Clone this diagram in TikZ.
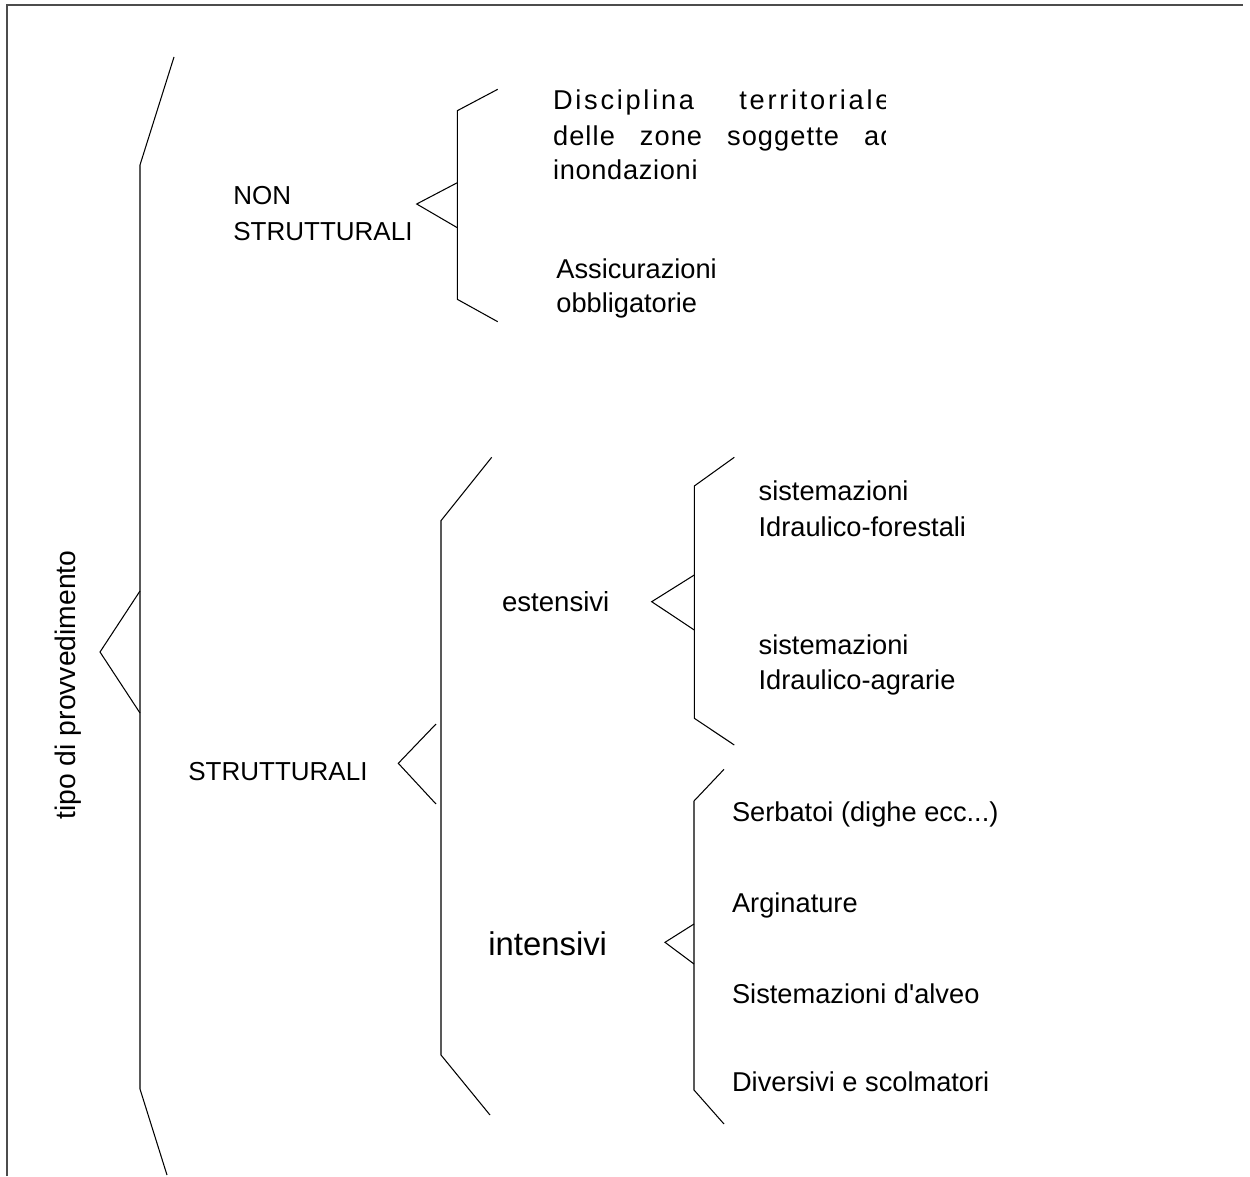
\documentclass[tikz,border=0pt]{standalone}
\usepackage{fontspec}
\setmainfont{Liberation Sans}
\newfontfamily\spaceda[LetterSpace=10]{Liberation Sans}
\newfontfamily\spacedb[LetterSpace=4]{Liberation Sans}
\newfontfamily\spacedc[LetterSpace=2.5]{Liberation Sans}
\begin{document}
\begin{tikzpicture}[x=0.02cm,y=-0.02cm,
  brk/.style={line width=0.6pt, black, line join=miter},
  lbl/.style={inner sep=0pt, anchor=base west, font=\fontsize{15.5}{18}\selectfont},
  caps/.style={inner sep=0pt, anchor=base west, font=\fontsize{14.8}{18}\selectfont},
]
\useasboundingbox (0,0) rectangle (1250,1176);
% frame
\draw[line width=0.9pt, black!70] (7,1176) -- (7,5) -- (1243,5);

% main bracket
\coordinate (m1) at (174,57);
\coordinate (m2) at (140,165);
\coordinate (m3) at (140,1089);
\coordinate (m4) at (167,1175);
\coordinate (mu) at (140,591);
\coordinate (mt) at (100,652);
\coordinate (md) at (140,713);
\draw[brk] (m1) -- (m2) -- (m3) -- (m4);
\draw[brk] (mu) -- (mt) -- (md);
\node[rotate=90, anchor=base, inner sep=0pt, font=\fontsize{16.1}{19}\selectfont] (tipo) at (75,685) {tipo di provvedimento};

% NON STRUTTURALI bracket
\coordinate (n1) at (497.7,89.3);
\coordinate (n2) at (457.3,110.7);
\coordinate (n3) at (457.3,299.3);
\coordinate (n4) at (497.7,321.7);
\coordinate (nu) at (457.3,182.7);
\coordinate (nt) at (416.7,204);
\coordinate (nd) at (457.3,227.7);
\draw[brk] (n1) -- (n2) -- (n3) -- (n4);
\draw[brk] (nu) -- (nt) -- (nd);
\node[caps] (non1) at (233,204) {NON};
\node[caps] (non2) at (233,240) {STRUTTURALI};

% Disciplina text (justified, clipped)
\begin{scope}
\clip (540,70) rectangle (885,200);
\node[lbl] (d1) at (552.7,110) {\spaceda\makebox[6.75cm][s]{Disciplina territoriale}};
\node[lbl] (d2) at (552.7,145) {\spacedb\makebox[6.85cm][s]{delle zone soggette ad}};
\end{scope}
\node[lbl] (d3) at (552.7,179) {\spacedc inondazioni};
\node[lbl] (ass1) at (556,278) {Assicurazioni};
\node[lbl] (ass2) at (556,312) {obbligatorie};

% STRUTTURALI bracket
\coordinate (s1) at (491.7,457.3);
\coordinate (s2) at (441,520.7);
\coordinate (s3) at (441,1055);
\coordinate (s4) at (490,1115);
\coordinate (su) at (436,724);
\coordinate (st) at (398.3,763.3);
\coordinate (sd) at (436,804);
\draw[brk] (s1) -- (s2) -- (s3) -- (s4);
\draw[brk] (su) -- (st) -- (sd);
\node[caps] (str) at (188,780) {STRUTTURALI};

% estensivi bracket
\coordinate (e1) at (734.3,457.3);
\coordinate (e2) at (694.3,486);
\coordinate (e3) at (694.3,718.3);
\coordinate (e4) at (734.3,745);
\coordinate (eu) at (694.3,575);
\coordinate (et) at (651.7,601.7);
\coordinate (ed) at (694.3,630);
\draw[brk] (e1) -- (e2) -- (e3) -- (e4);
\draw[brk] (eu) -- (et) -- (ed);
\node[lbl, font=\fontsize{15.7}{18}\selectfont] (est) at (501.7,611.7) {estensivi};
\node[lbl] (sf1) at (758.3,500) {sistemazioni};
\node[lbl] (sf2) at (758.3,536) {Idraulico-forestali};
\node[lbl] (sa1) at (758.3,654) {sistemazioni};
\node[lbl] (sa2) at (758.3,689) {Idraulico-agrarie};

% intensivi bracket
\coordinate (i1) at (724,769.3);
\coordinate (i2) at (694,801);
\coordinate (i3) at (694,1090);
\coordinate (i4) at (724,1124);
\coordinate (iu) at (694,924);
\coordinate (it) at (665,942.3);
\coordinate (id) at (694,964);
\draw[brk] (i1) -- (i2) -- (i3) -- (i4);
\draw[brk] (iu) -- (it) -- (id);
\node[lbl, font=\fontsize{18.7}{22}\selectfont] (int) at (488,955) {intensivi};
\node[lbl] (serb) at (731.7,821.7) {Serbatoi (dighe ecc...)};
\node[lbl] (arg) at (731.7,912.7) {Arginature};
\node[lbl] (alv) at (731.7,1003.3) {Sistemazioni d\textquotesingle alveo};
\node[lbl] (div) at (731.7,1091.7) {Diversivi e scolmatori};
\end{tikzpicture}
\end{document}
